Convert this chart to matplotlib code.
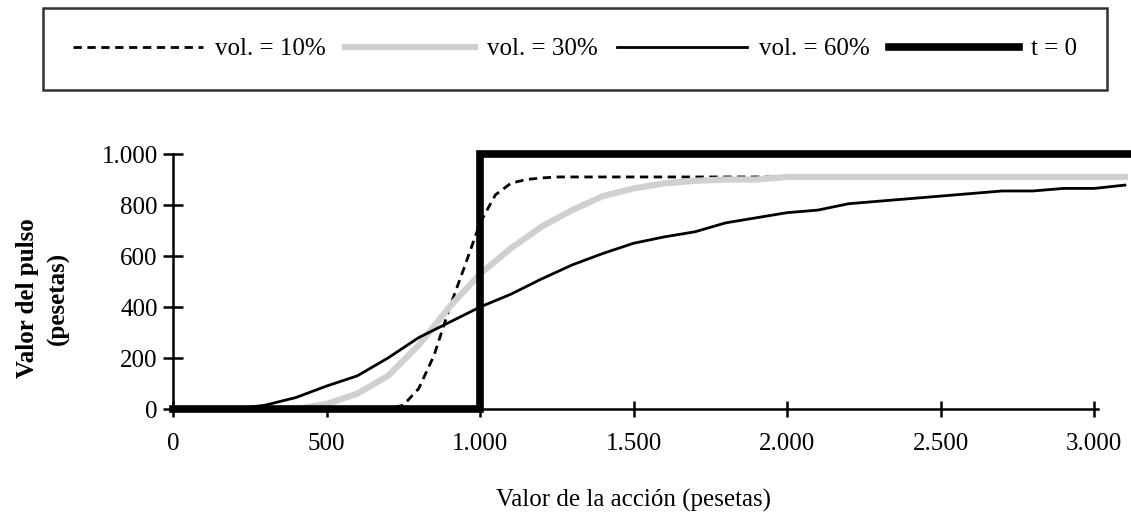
import numpy as np
import matplotlib.pyplot as plt
from matplotlib.ticker import FuncFormatter

plt.rcParams['font.family'] = ['Liberation Serif', 'DejaVu Serif']
plt.rcParams['font.size'] = 18

# share price (pesetas), sampled every 100
precio = np.arange(0, 3200, 100)

# vol. = 10% read more finely around the jump
precio10 = [0, 100, 200, 300, 400, 500, 600, 700, 750, 800, 850, 900, 950, 1000,
            1050, 1100, 1150, 1200, 1250, 1300, 1500, 2000, 2500, 3000, 3100]
vol10 = [0, 0, 0, 0, 0, 0, 0, 0, 15, 80, 210, 395, 560, 730,
         840, 885, 900, 906, 910, 910, 910, 910, 910, 910, 910]
vol30 = [0, 0, 0, 0, 0, 20, 60, 130, 250, 400, 530, 630, 715, 780, 835, 865,
         885, 895, 900, 900, 910, 910, 910, 910, 910, 910, 910, 910, 910, 910, 910, 910]
vol60 = [0, 0, 0, 15, 45, 90, 130, 200, 280, 340, 400, 450, 510, 565, 610, 650,
         675, 695, 730, 750, 770, 780, 805, 815, 825, 835, 845, 855, 855, 865, 865, 878]

# payoff at expiry
t0_x = [0, 1000, 1000, 3120]
t0_y = [0, 0, 1000, 1000]

fig = plt.figure(figsize=(11.31, 5.18), dpi=100)
ax = fig.add_axes([0.153, 0.2104, 0.847, 0.4923])

ax.plot(precio10, vol10, color='black', lw=2.0, linestyle=(0, (3.0, 2.0)), label='vol. = 10%', clip_on=False)
ax.plot(precio, vol30, color='#d0d0d0', lw=4.5, label='vol. = 30%', clip_on=False)
ax.plot(precio, vol60, color='black', lw=2.0, label='vol. = 60%', clip_on=False)
ax.plot(t0_x, t0_y, color='black', lw=5.5, label='t = 0', clip_on=False,
        solid_joinstyle='miter')

ax.set_xlim(0, 3120)
ax.set_ylim(0, 1000)
ax.set_xticks(range(0, 3001, 500))
ax.set_yticks(range(0, 1001, 200))
fmt = FuncFormatter(lambda v, p: f'{int(v):,}'.replace(',', '.'))
ax.xaxis.set_major_formatter(fmt)
ax.yaxis.set_major_formatter(fmt)

for s in ['top', 'right']:
    ax.spines[s].set_visible(False)
ax.spines['bottom'].set_bounds(0, 3013)
ax.spines['left'].set_linewidth(1.8)
ax.spines['bottom'].set_linewidth(1.8)
ax.tick_params(axis='y', direction='inout', length=14, width=1.8, pad=4, labelsize=18)
ax.tick_params(axis='x', direction='inout', length=12, width=1.8, pad=11, labelsize=18)

fig.text(634 / 1131, 1 - 500 / 518, 'Valor de la acción (pesetas)', ha='center', va='center', fontsize=18)
fig.text(43 / 1131, 1 - 298 / 518, 'Valor del pulso\n(pesetas)', ha='center', va='center',
         rotation=90, fontsize=18, fontweight='bold', linespacing=1.45)

leg = fig.legend(loc='center', ncol=4,
                 bbox_to_anchor=((37 + 1113) / 2 / 1131, 1 - 49 / 518),
                 handlelength=5.2, handletextpad=0.45, columnspacing=0.8,
                 borderpad=1.2, fancybox=False, edgecolor='black', fontsize=18)
leg.get_frame().set_linewidth(1.8)

fig.savefig('out.png', dpi=100)
